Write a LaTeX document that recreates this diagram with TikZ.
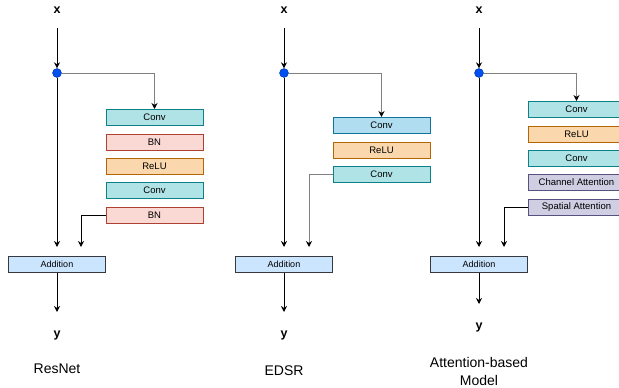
\documentclass[tikz,border=0pt]{standalone}
\usepackage{fontspec}
\setmainfont{Liberation Sans}
\usetikzlibrary{arrows.meta,positioning,calc}
\definecolor{convfill}{HTML}{B0E3E6}
\definecolor{convline}{HTML}{0E8088}
\definecolor{bnfill}{HTML}{FAD9D5}
\definecolor{bnline}{HTML}{AE4132}
\definecolor{relufill}{HTML}{FAD7AC}
\definecolor{reluline}{HTML}{B46504}
\definecolor{bluefill}{HTML}{B1DDF0}
\definecolor{blueline}{HTML}{10739E}
\definecolor{attfill}{HTML}{D0CEE2}
\definecolor{attline}{HTML}{56517E}
\definecolor{addfill}{HTML}{CCE5FF}
\definecolor{addline}{HTML}{36393D}
\definecolor{dotblue}{HTML}{0050EF}
\tikzset{
  layer/.style={draw,line width=1pt,minimum width=97pt,minimum height=16pt,inner sep=0pt,font=\fontsize{9.5}{11}\selectfont},
  convbox/.style={layer,fill=convfill,draw=convline},
  bnbox/.style={layer,fill=bnfill,draw=bnline},
  relubox/.style={layer,fill=relufill,draw=reluline},
  edsrbox/.style={layer,fill=bluefill,draw=blueline},
  attbox/.style={layer,fill=attfill,draw=attline},
  addbox/.style={layer,fill=addfill,draw=addline,font=\fontsize{9}{11}\selectfont},
  split/.style={circle,fill=dotblue,draw=dotblue!70!black,line width=0.4pt,minimum size=9pt,inner sep=0pt},
  io/.style={font=\fontsize{12.5}{15}\selectfont\bfseries},
  title/.style={font=\fontsize{14}{18}\selectfont,align=center},
  flow/.style={-{Stealth[length=6pt,width=6pt,black]},line width=1pt},
  skip/.style={flow,draw=gray}
}
\begin{document}
\begin{tikzpicture}[x=1pt,y=-1pt]
\useasboundingbox (0,0) rectangle (619,388);
% ResNet
\node[io] (rx) at (57,10) {x};
\coordinate (rs) at (57,28);
\node[split] (rd) at (57,73) {};
\node[convbox] (rc1) at (154.5,117.5) {Conv};
\node[bnbox] (rb1) at (154.5,142) {BN};
\node[relubox] (rr) at (154.5,166) {ReLU};
\node[convbox] (rc2) at (154.5,190.5) {Conv};
\node[bnbox] (rb2) at (154.5,215) {BN};
\node[addbox] (ra) at (57,264.5) {Addition};
\coordinate (rj) at (81,247);
\coordinate (ro) at (57,312);
\node[io] (ry) at (57,335) {y};
\node[title] (rt) at (57,369) {ResNet};
\draw[flow] (rs) -- (rd);
\draw[flow] (rd) -- ([yshift=9pt]ra.north);
\draw[skip] (rd) -| (rc1);
\draw[flow] (rb2.west) -| (rj);
\draw[flow] (ra) -- (ro);
% EDSR
\node[io] (ex) at (284,10) {x};
\coordinate (es) at (284,28);
\node[split] (ed) at (284,73) {};
\node[edsrbox] (ec1) at (381.5,125.5) {Conv};
\node[relubox] (er) at (381.5,150) {ReLU};
\node[convbox] (ec2) at (381.5,174.5) {Conv};
\node[addbox] (ea) at (284,264.5) {Addition};
\coordinate (ej) at (309,247);
\coordinate (eo) at (284,312);
\node[io] (ey) at (284,335) {y};
\node[title] (et) at (284,371) {EDSR};
\draw[flow] (es) -- (ed);
\draw[flow] (ed) -- ([yshift=9pt]ea.north);
\draw[skip] (ed) -| (ec1);
\draw[skip] (ec2.west) -| (ej);
\draw[flow] (ea) -- (eo);
% Attention-based model
\node[io] (ax) at (479,10) {x};
\coordinate (as) at (479,28);
\node[split] (ad) at (479,73) {};
\node[convbox] (ac1) at (576.5,109.5) {Conv};
\node[relubox] (ar) at (576.5,134) {ReLU};
\node[convbox] (ac2) at (576.5,158.5) {Conv};
\node[attbox] (ach) at (576.5,182.5) {Channel Attention};
\node[attbox] (asp) at (576.5,207.5) {Spatial Attention};
\node[addbox] (aa) at (479,264.5) {Addition};
\coordinate (aj) at (504,247);
\coordinate (ao) at (479,304);
\node[io] (ay) at (479,327) {y};
\node[title] (at) at (479,371) {Attention-based\\Model};
\draw[flow] (as) -- (ad);
\draw[flow] (ad) -- ([yshift=9pt]aa.north);
\draw[skip] (ad) -| (ac1);
\draw[flow] (asp.west) -| (aj);
\draw[flow] (aa) -- (ao);
\end{tikzpicture}
\end{document}
